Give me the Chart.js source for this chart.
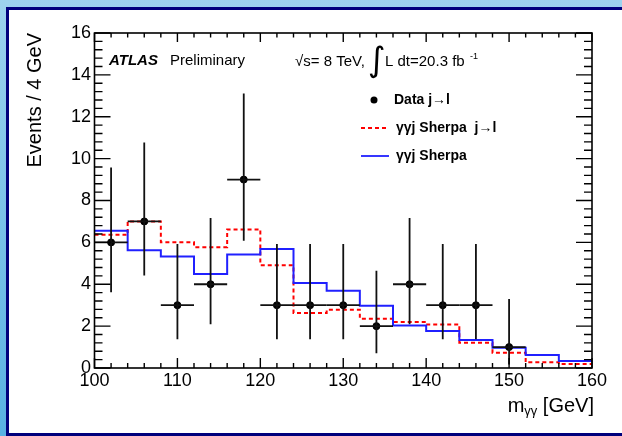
<!DOCTYPE html>
<html><head><meta charset="utf-8">
<script src="https://cdn.jsdelivr.net/npm/chart.js@4.4.0/dist/chart.umd.min.js"></script>
<style>
html,body{margin:0;padding:0;width:622px;height:436px;overflow:hidden;}
body{background:linear-gradient(to bottom,#9dd3ee,#58b1e2);}
#frame{position:absolute;left:6px;top:7px;width:660px;height:429px;box-sizing:border-box;border-top:3px solid #00007c;border-left:3px solid #00007c;border-bottom:3px solid #00007c;background:#fff;}
#c{position:absolute;left:0;top:0;}
</style></head><body>
<div id="frame"></div>
<canvas id="c" width="622" height="436"></canvas>
<script>
// ---- data ----
const binEdges   = [100,104,108,112,116,120,124,128,132,136,140,144,148,152,156,160];
const binCenters = [102,106,110,114,118,122,126,130,134,138,142,146,150,154,158];
const dataCounts = [6,7,3,4,9,3,3,3,2,4,3,3,1,null,null];
const dataErrLow  = [2.38,2.58,1.63,1.91,2.92,1.63,1.63,1.63,1.29,1.91,1.63,1.63,0.83,0,0];
const dataErrHigh = [3.58,3.77,2.92,3.16,4.11,2.92,2.92,2.92,2.64,3.16,2.92,2.92,2.30,0,0];
const sherpaJL = [6.36,7.00,6.01,5.77,6.62,4.91,2.63,2.78,2.35,2.20,2.08,1.21,0.73,0.27,0.19];
const sherpa   = [6.55,5.62,5.33,4.49,5.42,5.68,4.06,3.69,2.97,2.03,1.77,1.34,0.97,0.62,0.34];
const xTicks = [100,110,120,130,140,150,160];
const yTicks = [0,2,4,6,8,10,12,14,16];
const xMinorStep = 2, yMinorStep = 0.4;

const FONT = '"Liberation Sans", Arial, sans-serif';
const stepPts = vals => binEdges.map((e,i)=>({x:e, y:vals[Math.min(i, vals.length-1)]}));
const dataPts = binCenters.map((c,i)=>({x:c, y:dataCounts[i]})).filter(p=>p.y!==null);

const rootStyle = {
  id:'rootStyle',
  afterDatasetsDraw(chart){
    const ctx = chart.ctx, xs = chart.scales.x, ys = chart.scales.y;
    ctx.save();
    ctx.strokeStyle = '#111'; ctx.lineWidth = 1.8;
    binCenters.forEach((c,i)=>{
      const v = dataCounts[i]; if (v===null) return;
      const px = xs.getPixelForValue(c), py = ys.getPixelForValue(v);
      const half = (binEdges[i+1]-binEdges[i])/2;
      ctx.beginPath();
      ctx.moveTo(xs.getPixelForValue(c-half), py); ctx.lineTo(xs.getPixelForValue(c+half), py);
      ctx.moveTo(px, ys.getPixelForValue(v-dataErrLow[i])); ctx.lineTo(px, ys.getPixelForValue(v+dataErrHigh[i]));
      ctx.stroke();
    });
    ctx.restore();
  },
  afterDraw(chart){
    const ctx = chart.ctx, xs = chart.scales.x, ys = chart.scales.y;
    const a = chart.chartArea;
    ctx.save();
    // frame
    ctx.strokeStyle = '#000'; ctx.lineWidth = 1.6;
    ctx.strokeRect(a.left, a.top, a.right-a.left, a.bottom-a.top);
    ctx.lineWidth = 1.4;
    ctx.beginPath();
    // x ticks
    for (let v = xs.min; v <= xs.max + 1e-9; v += xMinorStep) {
      const major = xTicks.some(t=>Math.abs(t-v)<1e-6);
      const L = major ? 10 : 5;
      const px = xs.getPixelForValue(v);
      ctx.moveTo(px, a.bottom); ctx.lineTo(px, a.bottom - L);
      ctx.moveTo(px, a.top); ctx.lineTo(px, a.top + (major ? 9 : 4.5));
    }
    // y ticks
    for (let k = 0; k*yMinorStep <= ys.max + 1e-9; k++) {
      const v = k*yMinorStep;
      const major = yTicks.some(t=>Math.abs(t-v)<1e-6);
      const L = major ? 16 : 8;
      const py = ys.getPixelForValue(v);
      ctx.moveTo(a.left, py); ctx.lineTo(a.left + L, py);
      ctx.moveTo(a.right, py); ctx.lineTo(a.right - L, py);
    }
    ctx.stroke();

    ctx.fillStyle = '#000';
    // axis titles
    ctx.save();
    ctx.translate(41, a.top);
    ctx.rotate(-Math.PI/2);
    ctx.font = '20px ' + FONT; ctx.textAlign = 'right'; ctx.textBaseline = 'alphabetic';
    ctx.fillText('Events / 4 GeV', 0, 0);
    ctx.restore();

    ctx.textBaseline = 'alphabetic'; ctx.textAlign = 'left';
    ctx.font = '20px ' + FONT;
    const t2 = ' [GeV]';
    const w2 = ctx.measureText(t2).width;
    ctx.font = '13px ' + FONT;
    const ws = ctx.measureText('γγ').width;
    ctx.font = '20px ' + FONT;
    const wm = ctx.measureText('m').width;
    let x0 = 594 - w2 - ws - wm;
    ctx.fillText('m', x0, 412);
    ctx.font = '13px ' + FONT; ctx.fillText('γγ', x0 + wm, 415);
    ctx.font = '20px ' + FONT; ctx.fillText(t2, x0 + wm + ws, 412);

    // ATLAS label
    ctx.font = 'bold italic 15px ' + FONT; ctx.fillText('ATLAS', 109, 65);
    ctx.font = '15px ' + FONT; ctx.fillText('Preliminary', 170, 65);
    ctx.fillText('\u221As= 8 TeV,', 295, 66);
    ctx.font = '34px "DejaVu Sans"'; ctx.fillText('\u222B', 368, 71);
    ctx.font = '15px ' + FONT; ctx.fillText('L dt=20.3 fb', 385, 66);
    ctx.font = '9px ' + FONT; ctx.fillText('-1', 470, 59);

    // legend
    ctx.beginPath(); ctx.arc(374, 100, 3.5, 0, Math.PI*2); ctx.fill();
    ctx.font = 'bold 14px ' + FONT; ctx.textBaseline = 'middle';
    ctx.fillText('Data j\u2192l', 394, 100);
    ctx.fillText('\u03B3\u03B3j Sherpa  j\u2192l', 396, 128);
    ctx.fillText('\u03B3\u03B3j Sherpa', 396, 156);
    ctx.lineWidth = 1.8;
    ctx.strokeStyle = '#ff0000'; ctx.setLineDash([4,3]);
    ctx.beginPath(); ctx.moveTo(361,128); ctx.lineTo(389,128); ctx.stroke();
    ctx.strokeStyle = '#2020ff'; ctx.setLineDash([]);
    ctx.beginPath(); ctx.moveTo(361,156); ctx.lineTo(389,156); ctx.stroke();
    ctx.restore();
  }
};

new Chart(document.getElementById('c'), {
  type: 'line',
  data: {
    datasets: [
      { label:'\u03B3\u03B3j Sherpa  j\u2192l', data: stepPts(sherpaJL), stepped: true,
        borderColor:'#ff0000', borderWidth:2, borderDash:[4,3], pointRadius:0, fill:false, order:3 },
      { label:'\u03B3\u03B3j Sherpa', data: stepPts(sherpa), stepped: true,
        borderColor:'#2020ff', borderWidth:2, pointRadius:0, fill:false, order:2 },
      { label:'Data j\u2192l', type:'scatter', data: dataPts, pointRadius:3.5,
        pointBackgroundColor:'#000', pointBorderColor:'#000', showLine:false, order:1 }
    ]
  },
  options: {
    responsive:false, animation:false, devicePixelRatio:1,
    layout:{ padding:{ left:0, top:33, right:30, bottom:0 } },
    plugins:{ legend:{display:false}, tooltip:{enabled:false} },
    scales:{
      x:{ type:'linear', min:100, max:160,
          afterBuildTicks: s => { s.ticks = xTicks.map(v=>({value:v})); },
          afterFit: s => { s.height = 68; },
          grid:{display:false, drawTicks:false}, border:{display:false},
          ticks:{ autoSkip:false, maxRotation:0, padding:2, color:'#000', font:{family:FONT, size:18} } },
      y:{ type:'linear', min:0, max:16,
          afterBuildTicks: s => { s.ticks = yTicks.map(v=>({value:v})); },
          afterFit: s => { s.width = 94.5; },
          grid:{display:false, drawTicks:false}, border:{display:false},
          ticks:{ autoSkip:false, padding:3.5, color:'#000', font:{family:FONT, size:18} } }
    }
  },
  plugins:[rootStyle]
});
</script>
</body></html>
